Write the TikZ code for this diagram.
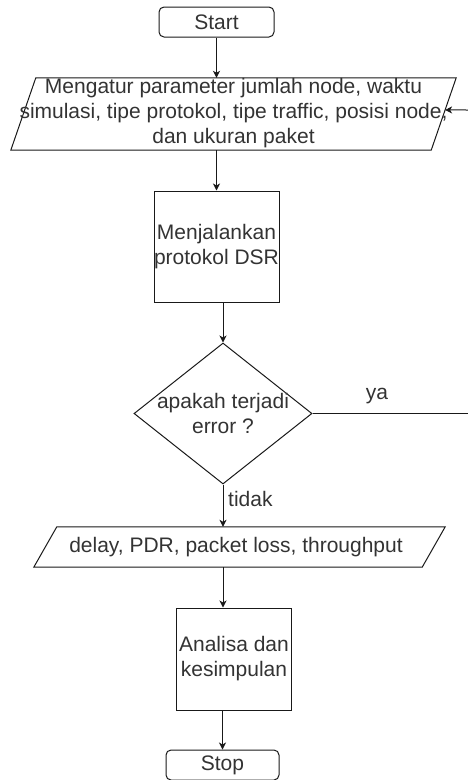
\documentclass[tikz,border=0pt]{standalone}
\usepackage{fontspec}
\setmainfont{Liberation Sans}
\usetikzlibrary{shapes.geometric,arrows.meta,calc}
\begin{document}
\begin{tikzpicture}[x=1pt,y=-1pt,
  txt/.style={font=\fontsize{21}{25}\selectfont, text=black!80, align=center, inner sep=0pt},
  shp/.style={draw=black!90, line width=1pt},
  term/.style={shp, rectangle, rounded corners=5pt, minimum width=115pt, minimum height=30pt, inner sep=0pt},
  proc/.style={shp, rectangle, inner sep=0pt},
  iobox/.style={rectangle, inner sep=0pt},
  dec/.style={shp, diamond, inner sep=0pt},
  arr/.style={line width=1pt, draw=black!90, -{Stealth[length=7pt,width=7pt,inset=2pt]}},
  conn/.style={line width=1pt, draw=black!90}]
\useasboundingbox (0,0) rectangle (468,780);

% shapes
\node[term, txt] (start) at (216.5,22) {Start};

\node[iobox, minimum width=445pt, minimum height=72pt] (p1) at (233.5,114) {};
\coordinate (p1tl) at ($(p1.north west)+(25,0)$);
\coordinate (p1br) at ($(p1.south east)+(-25,0)$);
\draw[shp] (p1tl) -- (p1.north east) -- (p1br) -- (p1.south west) -- cycle;
\node[txt] (p1t) at (233.5,113) {Mengatur parameter jumlah node, waktu\\simulasi, tipe protokol, tipe traffic, posisi node,\\dan ukuran paket};

\node[proc, txt, minimum width=125pt, minimum height=111pt] (r1) at (216.5,246.5) {Menjalankan\\protokol DSR};
\node[dec, minimum width=178pt, minimum height=141pt] (d) at (223,413.5) {};
\node[txt] (dt) at (223,413) {apakah terjadi\\error ?};

\node[iobox, minimum width=411pt, minimum height=40pt] (p2) at (239.5,547) {};
\coordinate (p2tl) at ($(p2.north west)+(23,0)$);
\coordinate (p2br) at ($(p2.south east)+(-23,0)$);
\draw[shp] (p2tl) -- (p2.north east) -- (p2br) -- (p2.south west) -- cycle;
\node[txt] (p2t) at (236,547) {delay, PDR, packet loss, throughput};

\node[proc, txt, minimum width=115pt, minimum height=102pt] (r2) at (234,659) {Analisa dan\\kesimpulan};
\node[term, txt, minimum width=113pt] (stop) at (222.5,765) {Stop};

% labels
\node[txt] (ya) at (377,396) {ya};
\node[txt, anchor=west] (tidak) at (228,499) {tidak};

% free ends at the page edge
\coordinate (yaEnd) at (468,413.5);
\coordinate (loopIn) at (468,110);
\coordinate (loopHit) at ($(p1.north east)!0.444!(p1br)$);

% connectors
\draw[arr] (start.south) -- (start.south |- p1.north);
\draw[arr] (r1.north |- p1.south) -- (r1.north);
\draw[arr] (d.north |- r1.south) -- (d.north);
\draw[arr] (d.south) -- (d.south |- p2.north);
\draw[arr] (d.south |- p2.south) -- (d.south |- r2.north);
\draw[arr] (stop.north |- r2.south) -- (stop.north);
\draw[conn] (d.east) -- (yaEnd);
\draw[arr] (loopIn) -- (loopHit);
\end{tikzpicture}
\end{document}
